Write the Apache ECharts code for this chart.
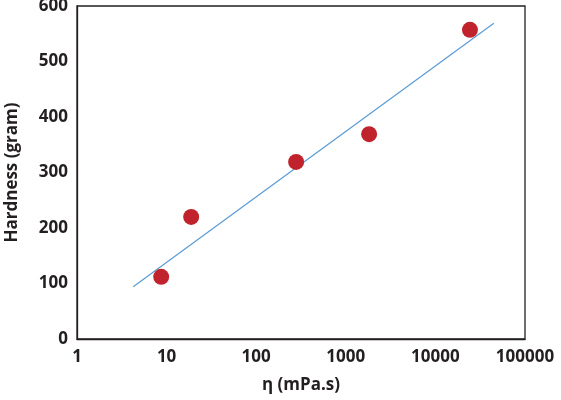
<!DOCTYPE html>
<html>
<head>
<meta charset="utf-8">
<script src="https://cdn.jsdelivr.net/npm/echarts@6/dist/echarts.min.js"></script>
<style>
  html, body { margin: 0; padding: 0; background: #fff; }
  #chart { width: 561px; height: 400px; }
</style>
</head>
<body>
<div id="chart"></div>
<script>
// measured points (viscosity vs hardness)
var viscosity = [8.7, 18.8, 279, 1820, 24300];
var hardness = [112, 220, 319, 369, 557];
// trend line end points as drawn
var trendX = [4.24, 44900];
var trendY = [94, 569];

var xTicks = [1, 10, 100, 1000, 10000, 100000];

var font = '"Open Sans", "Noto Sans", sans-serif';
var ink = '#231f20';

var points = viscosity.map(function (v, i) { return [v, hardness[i]]; });
var trend = trendX.map(function (v, i) { return [v, trendY[i]]; });

var chart = echarts.init(document.getElementById('chart'), null, { renderer: 'canvas' });

chart.setOption({
    animation: false,
    backgroundColor: '#fff',
    grid: {
        left: 77, right: 36, top: 6, bottom: 61,
        outerBoundsMode: 'none', containLabel: false,
        show: true, borderColor: ink, borderWidth: 1.3
    },
    xAxis: {
        type: 'log', logBase: 10, min: xTicks[0], max: xTicks[xTicks.length - 1],
        name: 'η (mPa.s)', nameLocation: 'middle', nameGap: 38,
        nameTextStyle: { fontFamily: font, fontWeight: 'bold', fontSize: 17, color: ink },
        axisLine: { show: true, lineStyle: { color: ink, width: 1.3 } },
        axisTick: { show: false },
        splitLine: { show: false },
        axisLabel: {
            margin: 10, fontFamily: font, fontWeight: 'bold', fontSize: 17, color: ink,
            formatter: function (v) { return String(Math.round(v)); }
        }
    },
    yAxis: {
        type: 'value', min: 0, max: 600, interval: 100,
        name: 'Hardness (gram)', nameLocation: 'middle', nameGap: 56, nameRotate: 90,
        nameTextStyle: { fontFamily: font, fontWeight: 'bold', fontSize: 17, color: ink },
        axisLine: { show: true, lineStyle: { color: ink, width: 1.3 } },
        axisTick: { show: false },
        splitLine: { show: false },
        axisLabel: { margin: 9, fontFamily: font, fontWeight: 'bold', fontSize: 17, color: ink }
    },
    series: [
        {
            type: 'line', data: trend, symbol: 'none', z: 1,
            lineStyle: { color: '#5b9bd5', width: 1.2 }
        },
        {
            type: 'scatter', data: points, symbol: 'circle', symbolSize: 16, z: 2,
            itemStyle: { color: '#c0232b', opacity: 1 }
        }
    ]
});
</script>
</body>
</html>
